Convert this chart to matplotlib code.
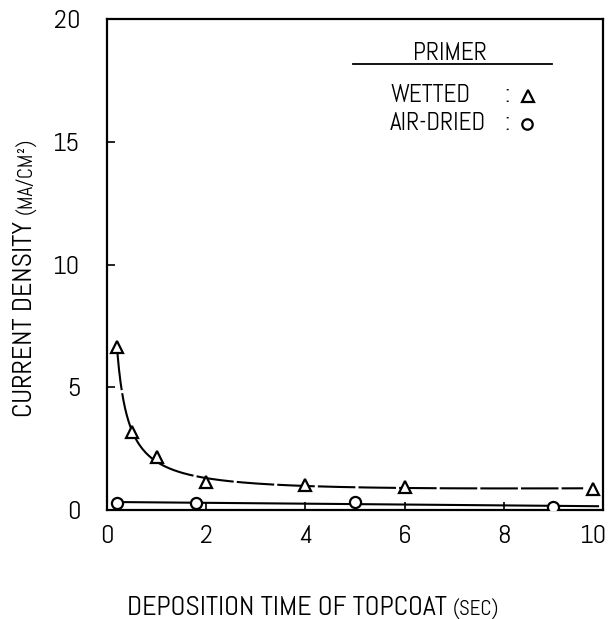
import numpy as np
import matplotlib
matplotlib.use("Agg")
import matplotlib.pyplot as plt
from matplotlib.transforms import ScaledTranslation

plt.rcParams["font.family"] = ["Abel", "DejaVu Sans"]

# values (current density in mA/cm^2 vs time in sec)
wet_t = [0.2, 0.5, 1.0, 2.0, 4.0, 6.0, 9.8]
wet_j = [6.64, 3.18, 2.16, 1.14, 1.02, 0.94, 0.86]
dry_t = [0.2, 1.8, 5.0, 9.0]
dry_j = [0.28, 0.30, 0.33, 0.12]

x_ticks = [0, 2, 4, 6, 8, 10]
y_ticks = [0, 5, 10, 15, 20]

fig = plt.figure(figsize=(6.1, 6.19), dpi=100)
ax = fig.add_axes([107 / 610, 1 - 510 / 619, 496 / 610, 491 / 619])

# smooth guide curve for the wetted primer: cubic in log-log space
c = np.polyfit(np.log(wet_t), np.log(wet_j), 3)
tt = np.linspace(0.21, 9.6, 300)
ax.plot(tt, np.exp(np.polyval(c, np.log(tt))), color="k", lw=1.5, dashes=(18, 1.5), zorder=2)

# straight guide line for the air-dried primer
k = np.polyfit(dry_t, dry_j, 1)
tl = np.linspace(0.2, 9.9, 50)
ax.plot(tl, np.polyval(k, tl), color="k", lw=1.5, zorder=2)

mk = dict(color="k", ls="none", mfc="white", mew=1.6, zorder=3)
ax.plot(wet_t, wet_j, marker="^", ms=9, **mk)
ax.plot(dry_t, dry_j, marker="o", ms=8, **mk)

ax.set_xlim(0, 10)
ax.set_ylim(0, 20)
ax.set_xticks(x_ticks)
ax.set_yticks(y_ticks)
ax.tick_params(axis="x", direction="in", length=6, width=1.2, pad=11, labelsize=19)
ax.tick_params(axis="y", direction="in", length=6, width=1.2, pad=19, labelsize=19)
for s in ax.spines.values():
    s.set_linewidth(1.6)

# pull the last x label in a little so it stays on the canvas
last = ax.get_xticklabels()[-1]
last.set_transform(last.get_transform() + ScaledTranslation(-7 / 72, 0, fig.dpi_scale_trans))

# axis titles, units in smaller caps
xl = fig.text(127 / 610, 1 - 615 / 619, "DEPOSITION TIME OF TOPCOAT ", fontsize=20,
              ha="left", va="baseline")
ax.annotate("(SEC)", xy=(1, 0), xycoords=xl, fontsize=15, ha="left", va="bottom")
yl = fig.text(25 / 610, 1 - 417 / 619, "CURRENT DENSITY ", fontsize=20, rotation=90,
              ha="center", va="bottom")
ax.annotate("(MA/CM²)", xy=(1, 1), xycoords=yl, fontsize=15, rotation=90,
            ha="right", va="bottom")

# legend block
ax.text(0.692, 0.916, "PRIMER", transform=ax.transAxes, fontsize=18, ha="center", va="baseline")
ax.plot([0.496, 0.897], [0.908, 0.908], transform=ax.transAxes, color="k", lw=1.3)
ax.text(0.571, 0.831, "WETTED", transform=ax.transAxes, fontsize=18, va="baseline")
ax.text(0.571, 0.774, "AIR-DRIED", transform=ax.transAxes, fontsize=18, va="baseline")
ax.text(0.806, 0.831, ":", transform=ax.transAxes, fontsize=18, ha="center", va="baseline")
ax.text(0.806, 0.774, ":", transform=ax.transAxes, fontsize=18, ha="center", va="baseline")
ax.plot([0.849], [0.843], transform=ax.transAxes, marker="^", ms=8.5, **mk)
ax.plot([0.847], [0.786], transform=ax.transAxes, marker="o", ms=7.5, **mk)

fig.savefig("out.png")
